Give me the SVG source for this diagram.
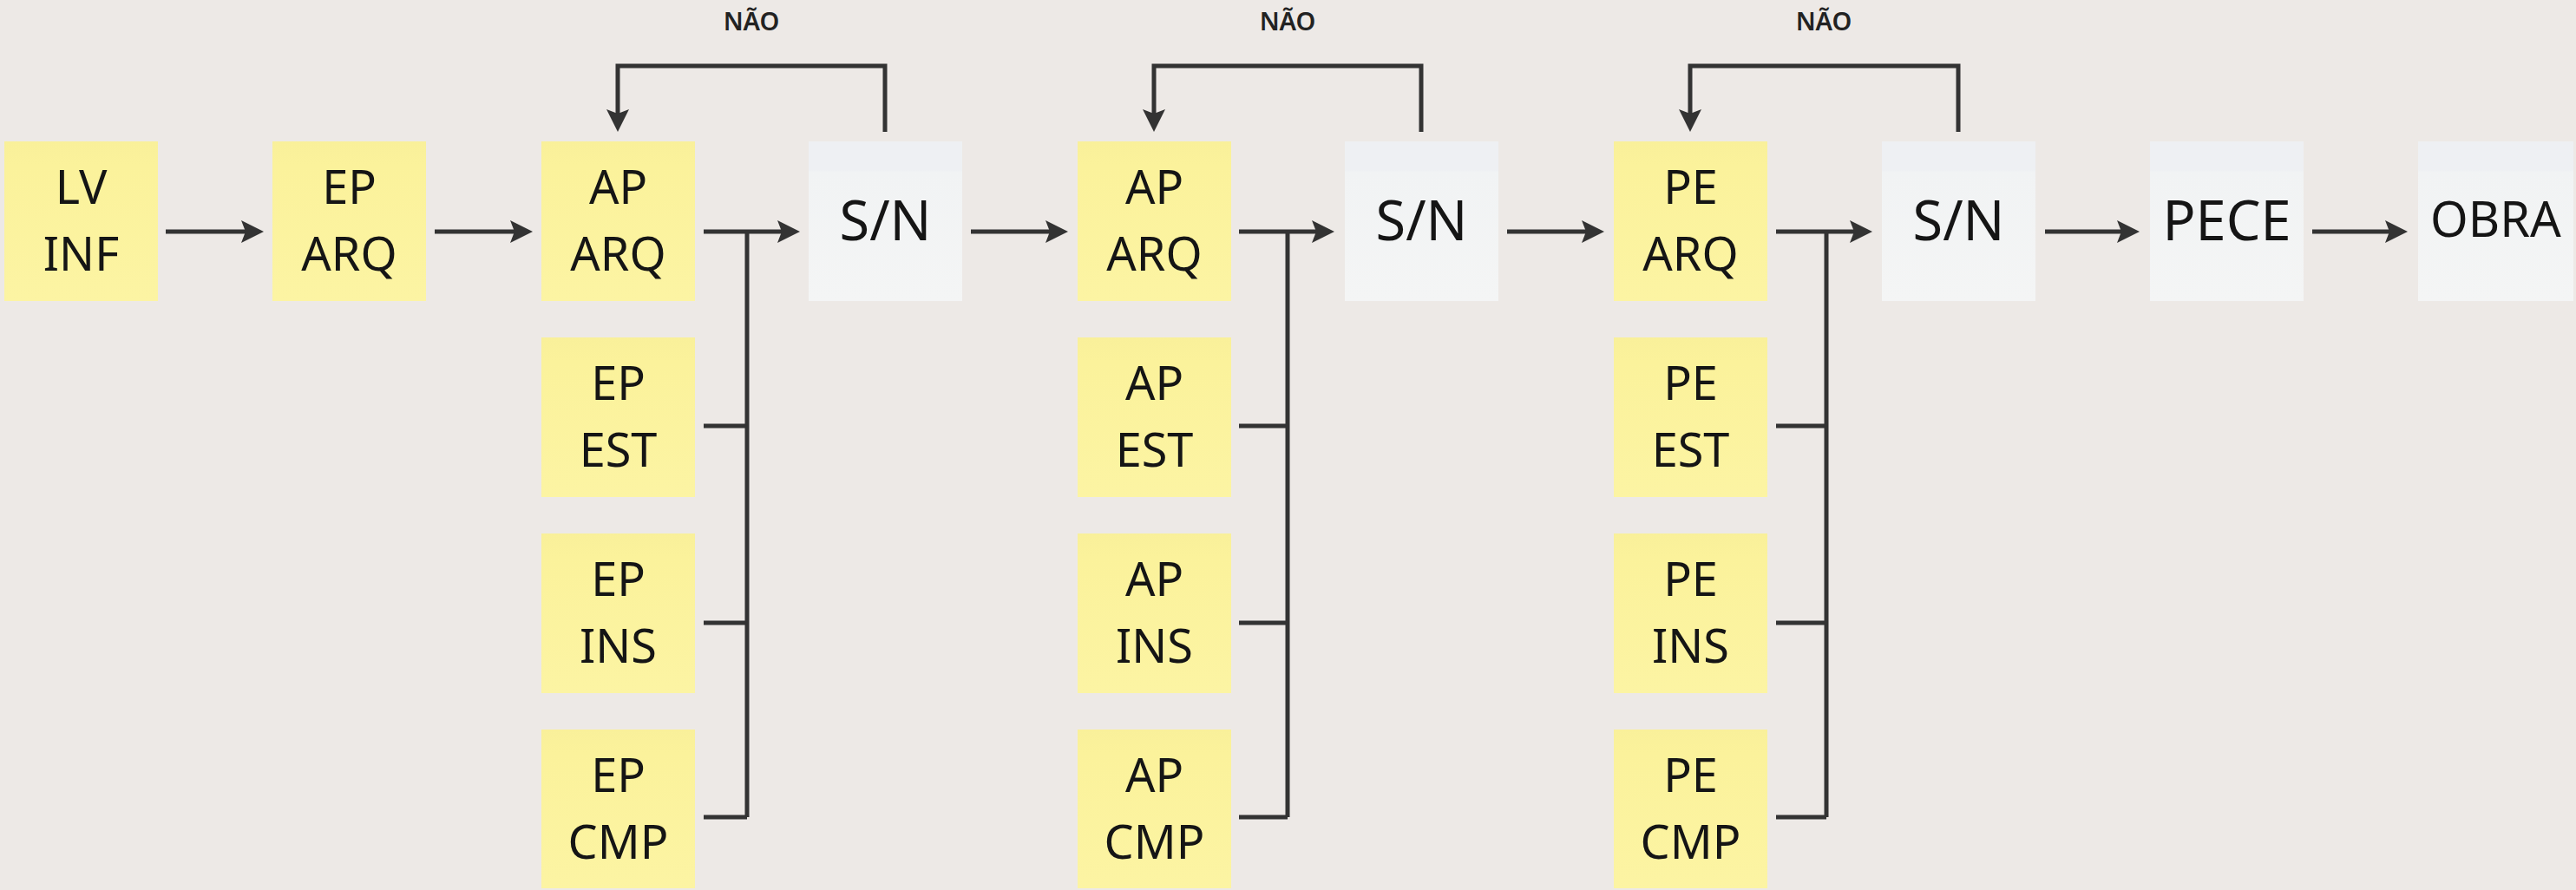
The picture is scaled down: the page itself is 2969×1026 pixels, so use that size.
<svg xmlns="http://www.w3.org/2000/svg" width="2969" height="1026" viewBox="0 0 2969 1026">
<defs>
<linearGradient id="gy" x1="0" y1="0" x2="0" y2="1">
<stop offset="0" stop-color="#f9f09a"/><stop offset="0.15" stop-color="#fbf29b"/><stop offset="1" stop-color="#fcf4a3"/>
</linearGradient>
<linearGradient id="gw" x1="0" y1="0" x2="0" y2="1">
<stop offset="0" stop-color="#eef0f3"/><stop offset="0.18" stop-color="#eef0f3"/><stop offset="0.19" stop-color="#f1f3f4"/><stop offset="1" stop-color="#f4f5f5"/>
</linearGradient>
<marker id="ah" markerUnits="userSpaceOnUse" markerWidth="28" markerHeight="28" refX="11" refY="13" orient="auto">
<path d="M0,0 L26,13 L0,26 L5,13 Z" fill="#333333"/>
</marker>
<style>
.y{fill:url(#gy)}
.w{fill:url(#gw)}
.t{font-family:"Noto Sans","Open Sans","DejaVu Sans",sans-serif;font-size:54px;fill:#151515;text-anchor:middle}
.tb{font-family:"Noto Sans","Open Sans","DejaVu Sans",sans-serif;font-size:63px;fill:#151515;text-anchor:middle}
.lbl{font-family:"Noto Sans","Open Sans","DejaVu Sans",sans-serif;font-size:29px;font-weight:600;fill:#222;text-anchor:middle}
.c{fill:none;stroke:#333333;stroke-width:5}
.a{marker-end:url(#ah)}
</style>
</defs>
<rect width="2969" height="1026" fill="#ede9e6"/>

<g id="connectors">
<path class="c a" d="M191,267 H289"/>
<path class="c a" d="M501,267 H599"/>
<path class="c a" d="M811,267 H907"/>
<path class="c" d="M811,491 H861 M811,718 H861 M811,942 H861 M861,267 V942"/>
<path class="c a" d="M1020,152 V76 H712 V137"/>
<path class="c a" d="M1119,267 H1216"/>
<path class="c a" d="M1428,267 H1523"/>
<path class="c" d="M1428,491 H1484 M1428,718 H1484 M1428,942 H1484 M1484,267 V942"/>
<path class="c a" d="M1638,152 V76 H1330 V137"/>
<path class="c a" d="M1737,267 H1834"/>
<path class="c a" d="M2047,267 H2143"/>
<path class="c" d="M2047,491 H2105 M2047,718 H2105 M2047,942 H2105 M2105,267 V942"/>
<path class="c a" d="M2257,152 V76 H1948 V137"/>
<path class="c a" d="M2357,267 H2451"/>
<path class="c a" d="M2665,267 H2760"/>
</g>

<g id="labels">
<text class="lbl" x="866" y="35">NÃO</text>
<text class="lbl" x="1484" y="35">NÃO</text>
<text class="lbl" x="2102" y="35">NÃO</text>
</g>

<g id="n-lv-inf"><rect class="y" x="5" y="163" width="177" height="184"/><text class="t" x="93.5" y="235">LV</text><text class="t" x="93.5" y="312">INF</text></g>
<g id="n-ep-arq"><rect class="y" x="314" y="163" width="177" height="184"/><text class="t" x="402.5" y="235">EP</text><text class="t" x="402.5" y="312">ARQ</text></g>

<g id="n-ap-arq-1"><rect class="y" x="624" y="163" width="177" height="184"/><text class="t" x="712.5" y="235">AP</text><text class="t" x="712.5" y="312">ARQ</text></g>
<g id="n-ep-est"><rect class="y" x="624" y="389" width="177" height="184"/><text class="t" x="712.5" y="461">EP</text><text class="t" x="712.5" y="538">EST</text></g>
<g id="n-ep-ins"><rect class="y" x="624" y="615" width="177" height="184"/><text class="t" x="712.5" y="687">EP</text><text class="t" x="712.5" y="764">INS</text></g>
<g id="n-ep-cmp"><rect class="y" x="624" y="841" width="177" height="183"/><text class="t" x="712.5" y="913">EP</text><text class="t" x="712.5" y="990">CMP</text></g>
<g id="n-sn-1"><rect class="w" x="932" y="163" width="177" height="184"/><text class="tb" x="1020.5" y="277">S/N</text></g>

<g id="n-ap-arq-2"><rect class="y" x="1242" y="163" width="177" height="184"/><text class="t" x="1330.5" y="235">AP</text><text class="t" x="1330.5" y="312">ARQ</text></g>
<g id="n-ap-est"><rect class="y" x="1242" y="389" width="177" height="184"/><text class="t" x="1330.5" y="461">AP</text><text class="t" x="1330.5" y="538">EST</text></g>
<g id="n-ap-ins"><rect class="y" x="1242" y="615" width="177" height="184"/><text class="t" x="1330.5" y="687">AP</text><text class="t" x="1330.5" y="764">INS</text></g>
<g id="n-ap-cmp"><rect class="y" x="1242" y="841" width="177" height="183"/><text class="t" x="1330.5" y="913">AP</text><text class="t" x="1330.5" y="990">CMP</text></g>
<g id="n-sn-2"><rect class="w" x="1550" y="163" width="177" height="184"/><text class="tb" x="1638.5" y="277">S/N</text></g>

<g id="n-pe-arq"><rect class="y" x="1860" y="163" width="177" height="184"/><text class="t" x="1948.5" y="235">PE</text><text class="t" x="1948.5" y="312">ARQ</text></g>
<g id="n-pe-est"><rect class="y" x="1860" y="389" width="177" height="184"/><text class="t" x="1948.5" y="461">PE</text><text class="t" x="1948.5" y="538">EST</text></g>
<g id="n-pe-ins"><rect class="y" x="1860" y="615" width="177" height="184"/><text class="t" x="1948.5" y="687">PE</text><text class="t" x="1948.5" y="764">INS</text></g>
<g id="n-pe-cmp"><rect class="y" x="1860" y="841" width="177" height="183"/><text class="t" x="1948.5" y="913">PE</text><text class="t" x="1948.5" y="990">CMP</text></g>
<g id="n-sn-3"><rect class="w" x="2169" y="163" width="177" height="184"/><text class="tb" x="2257.5" y="277">S/N</text></g>

<g id="n-pece"><rect class="w" x="2478" y="163" width="177" height="184"/><text class="tb" x="2566.5" y="277">PECE</text></g>
<g id="n-obra"><rect class="w" x="2787" y="163" width="179" height="184"/><text class="tb" x="2876.5" y="273" style="font-size:56px">OBRA</text></g>
</svg>
